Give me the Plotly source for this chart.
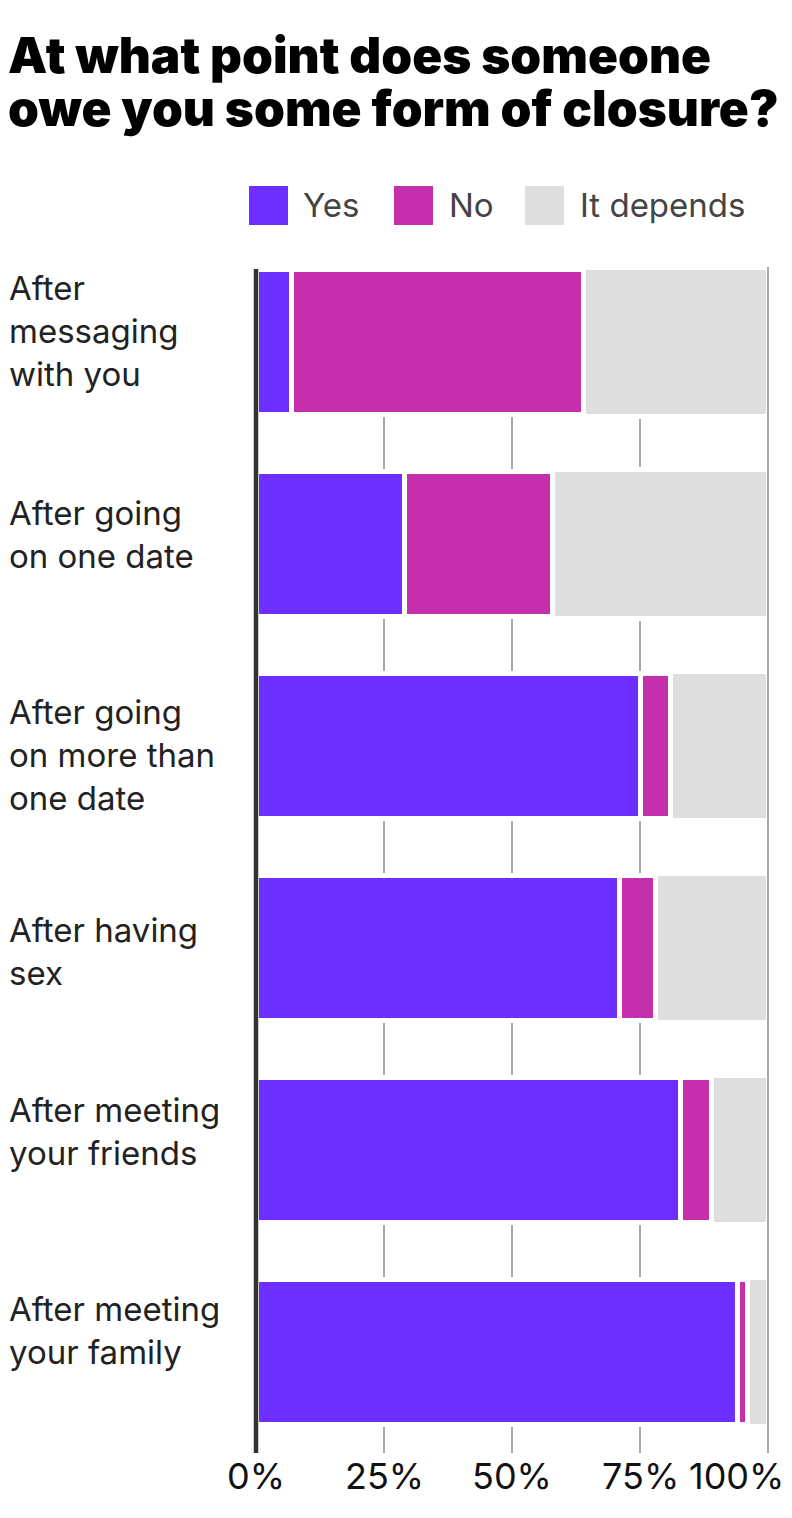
import plotly.graph_objects as go

# ---------------- data ----------------
categories = [
    "After<br>messaging<br>with you",
    "After going<br>on one date",
    "After going<br>on more than<br>one date",
    "After having<br>sex",
    "After meeting<br>your friends",
    "After meeting<br>your family",
]
series_names = ["Yes", "No", "It depends"]
yes_values = [7, 29, 75, 71, 83, 94]
no_values = [57, 29, 6, 7, 6, 2]
depends_values = [36, 42, 19, 22, 11, 4]
tick_values = [0, 25, 50, 75, 100]
tick_labels = ["0%", "25%", "50%", "75%", "100%"]
title_lines = ["At what point does someone", "owe you some form of closure?"]

# ---------------- style ----------------
OFF = 8  # page body margin offset
W, H = 792 - OFF, 1518 - OFF
L = 256 - OFF
T = 267 - OFF
PW = 512
PH = 1453 - 267
R = W - L - PW
B = H - T - PH
colors = ["#6c2fff", "#c52fab", "#dedede"]
FONT = "Inter"


def px_x(px):
    # px: position in the final page
    return (px - OFF - L) / PW


def px_y(py):
    return (T + PH - (py - OFF)) / PH


fig = go.Figure()
for name, vals, col, wd in zip(series_names, [yes_values, no_values, depends_values],
                               colors, [0.717, 0.717, 0.737]):
    fig.add_trace(go.Bar(
        name=name, y=categories, x=vals, orientation="h",
        marker=dict(color=col, line=dict(color="white", width=5)),
        width=wd, showlegend=False, hoverinfo="x+name",
    ))

annotations = []
shapes = []

# title
for i, line in enumerate(title_lines):
    annotations.append(dict(
        text=line, xref="paper", yref="paper", x=px_x(6), y=px_y(55 + i * 53),
        xanchor="left", yanchor="middle", showarrow=False,
        font=dict(family=FONT, size=49.5, color="#000000", weight=900),
    ))

# legend (manual, large swatches)
legend_sq_x = [249, 394, 525]
legend_tx_x = [301, 447, 578]
for name, col, sx, tx in zip(series_names, colors, legend_sq_x, legend_tx_x):
    shapes.append(dict(type="rect", xref="paper", yref="paper",
                       x0=px_x(sx), x1=px_x(sx + 39), y0=px_y(225), y1=px_y(186),
                       fillcolor=col, line=dict(width=0)))
    annotations.append(dict(
        text=name, xref="paper", yref="paper", x=px_x(tx), y=px_y(205),
        xanchor="left", yanchor="middle", showarrow=False,
        font=dict(family=FONT, size=33, color="#444444"),
    ))

# category labels
label_shift = [11, 9, -9, -4, 18, 21]
for cat, ys in zip(categories, label_shift):
    annotations.append(dict(
        text=cat, xref="paper", yref="y", x=px_x(7), y=cat, yshift=ys,
        xanchor="left", yanchor="middle", align="left", showarrow=False,
        font=dict(family=FONT, size=33, color="#222222"),
    ))

# x tick labels
for v, t in zip(tick_values, tick_labels):
    is_last = v == tick_values[-1]
    annotations.append(dict(
        text=t, xref="x", yref="paper", x=v, y=px_y(1476),
        xanchor="right" if is_last else "center", xshift=18 if is_last else 0,
        yanchor="middle", showarrow=False,
        font=dict(family=FONT, size=36, color="#111111"),
    ))

# 100% line above bars, 0% axis line (paper refs so they are not clipped)
shapes.append(dict(type="line", xref="paper", yref="paper", x0=1, x1=1, y0=0, y1=1,
                   line=dict(color="#a6a6a6", width=2), layer="above"))
shapes.append(dict(type="line", xref="paper", yref="paper", x0=0, x1=0, y0=0, y1=1 - 2 / PH,
                   line=dict(color="#333333", width=4.5), layer="above"))

fig.update_layout(
    width=W, height=H,
    margin=dict(l=L, r=R, t=T, b=B, pad=0),
    barmode="stack",
    bargap=0.283,
    paper_bgcolor="white", plot_bgcolor="white",
    showlegend=False,
    xaxis=dict(range=[0, 100], tickvals=[25, 50, 75], showticklabels=False,
               showgrid=True, gridcolor="#a6a6a6", gridwidth=2,
               zeroline=False, showline=False, ticks="", fixedrange=True),
    yaxis=dict(categoryorder="array", categoryarray=categories,
               range=[5.5, -0.37], showticklabels=False, showgrid=False,
               zeroline=False, showline=False, ticks="", fixedrange=True),
    annotations=annotations,
    shapes=shapes,
)

fig.write_html("out.html")
